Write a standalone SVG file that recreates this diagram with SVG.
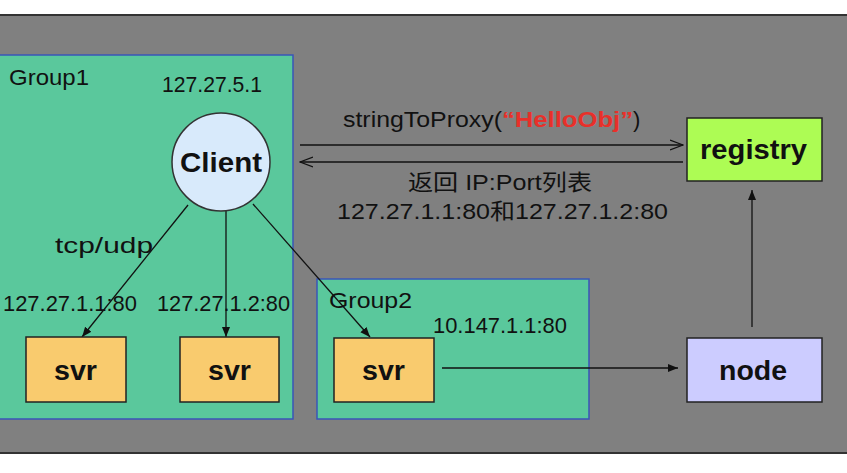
<svg xmlns="http://www.w3.org/2000/svg" width="847" height="473" viewBox="0 0 847 473">
<defs>
<style>
text{font-family:"Liberation Sans",Arial,"Noto Sans CJK SC",sans-serif;fill:#111}
.lbl{font-size:22px}
.b{font-size:27px;font-weight:bold}
.grp{fill:#5ac89c;stroke:#3a55b8;stroke-width:1.5}
.svr{fill:#f9cb6e;stroke:#222;stroke-width:1.5}
.ln{stroke:#111;stroke-width:1.3;fill:none}
</style>
<marker id="fa" viewBox="0 0 10 10" refX="10" refY="5" markerWidth="10" markerHeight="10" markerUnits="userSpaceOnUse" orient="auto"><path d="M0,1 L10,5 L0,9 z" fill="#111"/></marker>
<marker id="oa" viewBox="0 0 14 12" refX="13" refY="6" markerWidth="14" markerHeight="12" markerUnits="userSpaceOnUse" orient="auto"><path d="M0,1 L13,6 L0,11" fill="none" stroke="#111" stroke-width="1.3"/></marker>
</defs>
<rect x="0" y="0" width="847" height="473" fill="#fff"/>
<rect x="-2" y="15" width="851" height="438" fill="#808080" stroke="#333" stroke-width="2"/>
<g id="group1">
<rect class="grp" x="-5" y="55" width="298" height="364"/>
<text class="lbl" x="9" y="85" textLength="80" lengthAdjust="spacingAndGlyphs">Group1</text>
<text class="lbl" x="162" y="92" textLength="100" lengthAdjust="spacingAndGlyphs">127.27.5.1</text>
</g>
<g id="group2">
<rect class="grp" x="317" y="279" width="272" height="140"/>
<text class="lbl" x="329" y="308" textLength="83" lengthAdjust="spacingAndGlyphs">Group2</text>
<text class="lbl" x="433" y="333" textLength="134" lengthAdjust="spacingAndGlyphs">10.147.1.1:80</text>
</g>
<g id="connectors">
<line class="ln" x1="300" y1="145" x2="683" y2="145" marker-end="url(#oa)"/>
<line class="ln" x1="683" y1="162" x2="300" y2="162" marker-end="url(#oa)"/>
<line class="ln" x1="188" y1="205" x2="82" y2="337" marker-end="url(#fa)"/>
<line class="ln" x1="226" y1="211" x2="226" y2="337" marker-end="url(#fa)"/>
<line class="ln" x1="253" y1="204" x2="370" y2="337" marker-end="url(#fa)"/>
<line class="ln" x1="442" y1="368" x2="678" y2="368" marker-end="url(#fa)"/>
<line class="ln" x1="752" y1="327" x2="752" y2="190" marker-end="url(#fa)"/>
<text class="lbl" x="343" y="127" textLength="159" lengthAdjust="spacingAndGlyphs">stringToProxy(</text>
<text class="lbl" x="502" y="127" textLength="131" lengthAdjust="spacingAndGlyphs" style="fill:#e8302a;font-weight:bold">“HelloObj”</text>
<text class="lbl" x="633" y="127">)</text>
<text class="lbl" x="408" y="190" textLength="184" lengthAdjust="spacingAndGlyphs">返回 IP:Port列表</text>
<text class="lbl" x="337" y="219" textLength="331" lengthAdjust="spacingAndGlyphs">127.27.1.1:80和127.27.1.2:80</text>
<text class="lbl" x="55" y="253" textLength="98" lengthAdjust="spacingAndGlyphs">tcp/udp</text>
<text class="lbl" x="3" y="311" textLength="134" lengthAdjust="spacingAndGlyphs">127.27.1.1:80</text>
<text class="lbl" x="157" y="311" textLength="133" lengthAdjust="spacingAndGlyphs">127.27.1.2:80</text>
</g>
<g id="client">
<circle cx="221" cy="162" r="49" fill="#d8eafb" stroke="#333" stroke-width="1.5"/>
<text class="b" x="180" y="172" textLength="82" lengthAdjust="spacingAndGlyphs">Client</text>
</g>
<g id="registry">
<rect x="687" y="118" width="135" height="63" fill="#adfc54" stroke="#222" stroke-width="1.5"/>
<text class="b" x="700" y="159" textLength="107" lengthAdjust="spacingAndGlyphs">registry</text>
</g>
<g id="svr1">
<rect class="svr" x="26" y="337" width="100" height="65"/>
<text class="b" x="54" y="380" textLength="43" lengthAdjust="spacingAndGlyphs">svr</text>
</g>
<g id="svr2">
<rect class="svr" x="180" y="337" width="99" height="65"/>
<text class="b" x="208" y="380" textLength="43" lengthAdjust="spacingAndGlyphs">svr</text>
</g>
<g id="svr3">
<rect class="svr" x="334" y="338" width="100" height="64"/>
<text class="b" x="362" y="380" textLength="43" lengthAdjust="spacingAndGlyphs">svr</text>
</g>
<g id="node">
<rect x="687" y="338" width="135" height="64" fill="#ccccff" stroke="#222" stroke-width="1.5"/>
<text class="b" x="719" y="380" textLength="68" lengthAdjust="spacingAndGlyphs">node</text>
</g>
</svg>
